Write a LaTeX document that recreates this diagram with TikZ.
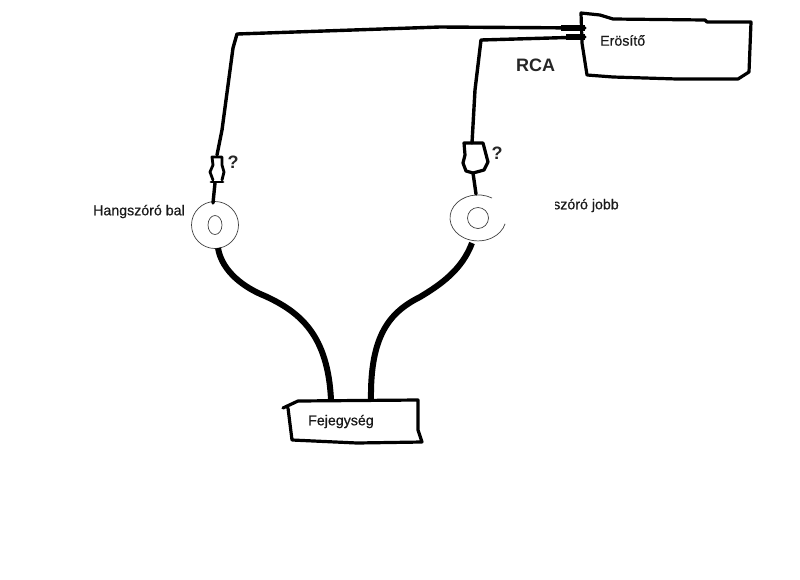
\documentclass[tikz,border=0pt]{standalone}
\usepackage{fontspec}
\usetikzlibrary{shapes.geometric}
\setmainfont{Liberation Sans}
\newfontfamily\labfont[FakeBold=0.5]{Liberation Sans}
\begin{document}
\begin{tikzpicture}[x=1pt,y=-1pt,
  ink/.style={draw=black,line width=3.2pt,line join=round,line cap=round},
  wire/.style={ink,line width=3.4pt},
  thickwire/.style={ink,line width=6pt,line cap=butt},
  thin/.style={draw=black!75,line width=0.7pt},
  lab/.style={font=\labfont\fontsize{14.2}{16}\selectfont,text=black!90,inner sep=0pt},
  big/.style={font=\fontsize{18}{20}\selectfont\bfseries,text=black!85,inner sep=0pt}]
\useasboundingbox (0,0) rectangle (800,579);
% boxes
\draw[ink] (581,13) -- (600,15) -- (613,19) -- (705,20) -- (707,22) -- (751,22) -- (749,72) -- (738,79) -- (677,79) -- (613,77) -- (587,75) -- (582,43) -- cycle;
\draw[ink] (283,408) -- (298,401) -- (418,400) -- (418,430) -- (422,442) -- (357,443) -- (292,440) -- (288,408);
\coordinate (ampA) at (585,28);
\coordinate (ampB) at (585,37);
\coordinate (headA) at (331,400);
\coordinate (headB) at (371,400);
% speakers
\node[thin,draw,circle,minimum size=47pt,inner sep=0pt] (spkL) at (215,225) {};
\node[thin,draw,ellipse,minimum width=14pt,minimum height=19pt,inner sep=0pt] (spkLi) at (215,225) {};
\coordinate (spkRc) at (478,218);
\draw[thin] (492,198) arc[start angle=60,end angle=345,x radius=28pt,y radius=23pt];
\node[thin,draw,circle,minimum size=21pt,inner sep=0pt] (spkRi) at (spkRc) {};
% plugs
\coordinate (plugLt) at (217,155);
\coordinate (plugLb) at (215,183);
\draw[ink,line width=2.8pt] (213,180) -- (210,172) -- (213,165) -- (212,157) -- (222,157) -- (222,165) -- (224,172) -- (222,180);
\draw[ink,line width=2.8pt] (211,182) -- (223,182);
\coordinate (plugRt) at (472,143);
\coordinate (plugRb) at (473,173);
\draw[ink] (464,143) -- (483,143) -- (488,162) -- (484,170) -- (473,173) -- (466,171) -- (463,163) -- (465,155) -- cycle;
% wires
\draw[wire] (ampA) -- (440,27) -- (237,34) -- (233,48) -- (222,130) -- (plugLt);
\draw[wire] (plugLb) -- (213,203);
\draw[wire] (ampB) -- (481,40) -- (475,90) -- (plugRt);
\draw[wire] (plugRb) -- (476,194);
\draw[ink,line width=5.5pt,line cap=butt] (561,28) -- (ampA);
\draw[ink,line width=5.5pt,line cap=butt] (566,37) -- (ampB);
\draw[thickwire] (218,248) .. controls (222,272) and (245,288) .. (265,296) .. controls (300,312) and (328,335) .. (headA);
\draw[thickwire] (472,243) .. controls (462,270) and (440,285) .. (420,297) .. controls (390,312) and (370,335) .. (headB);
% labels
\node[lab,anchor=west] (t1) at (600,40.5) {Erösítő};
\node[big,anchor=west] (t2) at (516,65) {RCA};
\begin{scope}
\clip (555,190) rectangle (640,220);
\node[lab,anchor=west] (t3) at (553,205.5) {szóró jobb};
\end{scope}
\node[lab,anchor=west] (t4) at (93,211.5) {Hangszóró bal};
\node[lab,anchor=west] (t5) at (308,421.5) {Fejegység};
\node[big] (q1) at (233,162) {?};
\node[big] (q2) at (497,153) {?};
\end{tikzpicture}
\end{document}
